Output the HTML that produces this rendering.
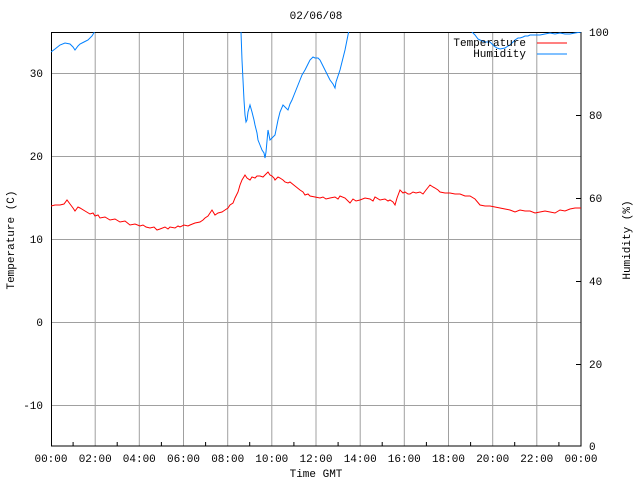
<!DOCTYPE html>
<html><head><meta charset="utf-8"><style>
body{margin:0;background:#fff}
text{font-family:"Liberation Mono","DejaVu Sans Mono",monospace;font-size:11px;fill:#000}
</style></head><body>
<svg width="640" height="480" xmlns="http://www.w3.org/2000/svg">
<defs><clipPath id="c"><rect x="51" y="32" width="530" height="414"/></clipPath></defs>
<rect width="640" height="480" fill="#fff"/>
<g stroke="#a0a0a0" stroke-width="1">
<line x1="95.2" y1="32" x2="95.2" y2="446"/><line x1="139.3" y1="32" x2="139.3" y2="446"/><line x1="183.5" y1="32" x2="183.5" y2="446"/><line x1="227.7" y1="32" x2="227.7" y2="446"/><line x1="271.8" y1="32" x2="271.8" y2="446"/><line x1="316" y1="32" x2="316" y2="446"/><line x1="360.2" y1="32" x2="360.2" y2="446"/><line x1="404.3" y1="32" x2="404.3" y2="446"/><line x1="448.5" y1="32" x2="448.5" y2="446"/><line x1="492.7" y1="32" x2="492.7" y2="446"/><line x1="536.8" y1="32" x2="536.8" y2="446"/>
<line x1="51" y1="73.5" x2="581" y2="73.5"/><line x1="51" y1="156.5" x2="581" y2="156.5"/><line x1="51" y1="239.5" x2="581" y2="239.5"/><line x1="51" y1="322.5" x2="581" y2="322.5"/><line x1="51" y1="405.5" x2="581" y2="405.5"/>
</g>
<g stroke="#000" stroke-width="1">
<rect x="51.5" y="32.5" width="529.5" height="413.5" fill="none"/>
<path d="M73.1 446v-4M117.2 446v-4M161.4 446v-4M205.6 446v-4M249.7 446v-4M293.9 446v-4M338.1 446v-4M382.2 446v-4M426.4 446v-4M470.6 446v-4M514.7 446v-4M558.9 446v-4"/>
<path d="M581 115.5h-5M581 198.5h-5M581 281.5h-5M581 364.5h-5"/>
</g>
<text x="316" y="19" text-anchor="middle">02/06/08</text>
<g text-anchor="end"><text x="43" y="77">30</text><text x="43" y="160">20</text><text x="43" y="243">10</text><text x="43" y="326">0</text><text x="43" y="409">-10</text></g>
<g><text x="589" y="36">100</text><text x="589" y="119">80</text><text x="589" y="202">60</text><text x="589" y="285">40</text><text x="589" y="368">20</text><text x="589" y="450">0</text></g>
<g text-anchor="middle"><text x="51" y="462">00:00</text><text x="95.2" y="462">02:00</text><text x="139.3" y="462">04:00</text><text x="183.5" y="462">06:00</text><text x="227.7" y="462">08:00</text><text x="271.8" y="462">10:00</text><text x="316" y="462">12:00</text><text x="360.2" y="462">14:00</text><text x="404.3" y="462">16:00</text><text x="448.5" y="462">18:00</text><text x="492.7" y="462">20:00</text><text x="536.8" y="462">22:00</text><text x="581" y="462">00:00</text>
<text x="316" y="477">Time GMT</text>
<text transform="translate(14,240) rotate(-90)">Temperature (C)</text>
<text transform="translate(630,240) rotate(-90)">Humidity (%)</text></g>
<g clip-path="url(#c)" fill="none" stroke-width="1">
<polyline stroke="#ff0000" points="51,206 55,205 60,205 64,204 67,200 70,204 73,208 75,211 78,207 80,208 85,211 90,214 93,213 95,216 98,215 100,218 105,217 110,220 115,219 120,222 125,221 130,225 135,224 140,226 143,225 146,227 150,228 154,227 157,230 160,229 165,227 168,229 170,227 175,228 178,226 180,227 184,225 188,226 190,225 195,223 200,222 203,220 205,218 208,216 212,210 215,215 218,213 222,212 225,210 228,208 230,205 233,203 235,198 238,192 240,185 242,180 245,175 247,178 250,180 252,177 255,178 257,176 260,176 263,177 265,175 268,172 270,175 272,176 274,178 275,180 278,177 280,178 283,180 285,182 288,183 290,182 295,186 300,190 303,192 305,195 308,194 310,196 315,197 320,198 323,197 326,199 330,198 335,197 338,199 340,196 345,198 348,201 350,203 353,199 356,201 360,200 365,198 370,199 373,201 375,197 380,200 385,199 388,201 390,200 393,202 395,205 397,198 400,190 403,193 405,192 408,194 410,194 413,192 416,193 420,192 423,194 426,190 430,185 433,187 435,188 438,190 440,192 445,193 450,193 455,194 460,194 465,196 470,196 475,199 480,205 485,206 490,206 495,207 500,208 505,209 510,210 515,212 520,210 525,211 530,211 535,213 540,212 545,211 550,212 555,213 560,210 565,211 570,209 575,208 581,208"/>
<polyline stroke="#0080ff" points="51,52 55,49 60,45 65,43 70,44 73,47 75,50 78,46 80,44 84,42 88,40 92,36 95,31 96,28 240,28 241,32 242,60 243,80 244,100 245,115 246,122 247,120 248,112 250,105 252,112 254,120 255,125 257,133 258,140 260,145 262,150 264,153 265,158 266,152 268,130 269,135 270,140 272,138 275,135 277,125 278,120 280,112 283,105 285,107 288,110 290,104 292,100 294,95 296,90 298,85 300,80 302,75 305,70 308,64 310,60 313,57 315,58 318,58 320,60 322,64 325,70 328,76 330,80 333,84 335,88 336,82 338,76 340,70 343,58 345,50 347,40 349,30 350,28 470,28 472,32 475,35 478,39 480,40 485,42 490,42 494,46 497,48 500,49 505,48 508,46 510,45 513,42 515,40 518,38 520,38 523,37 525,36 528,36 530,35 535,35 540,35 545,34 550,33 555,34 560,33 565,34 570,34 575,33 581,32"/>
</g>
<g text-anchor="end"><text x="526" y="46">Temperature</text><text x="526" y="57">Humidity</text></g>
<line x1="537" y1="43" x2="567" y2="43" stroke="#ff0000"/>
<line x1="537" y1="54" x2="567" y2="54" stroke="#0080ff"/>
</svg>
</body></html>
